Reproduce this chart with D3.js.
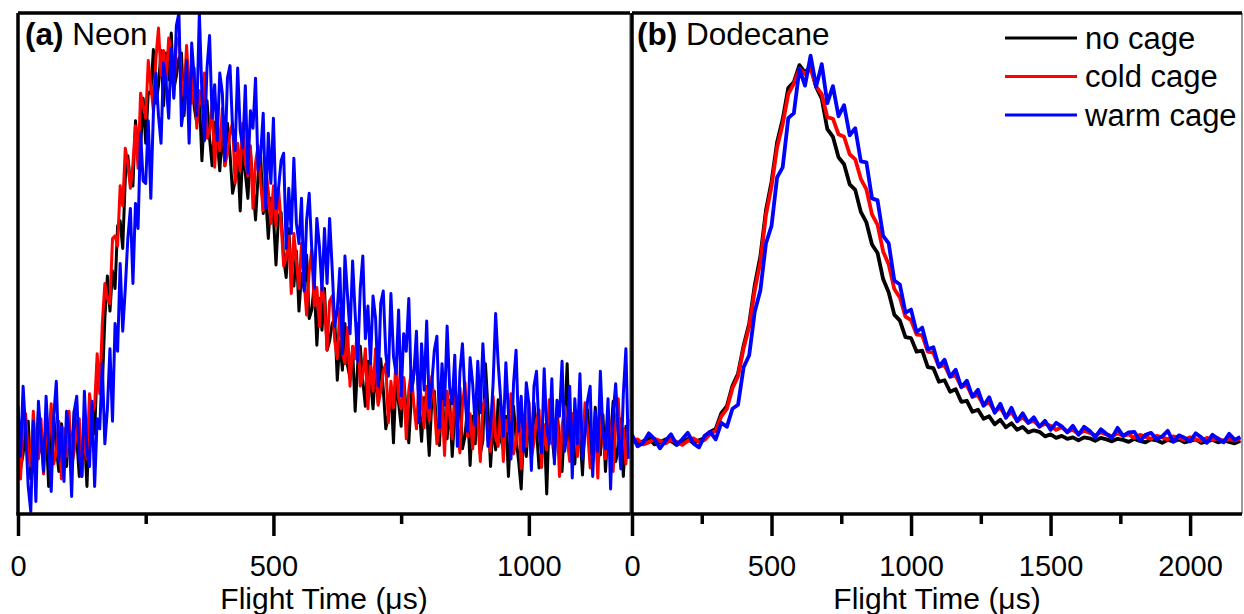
<!DOCTYPE html>
<html>
<head>
<meta charset="utf-8">
<script src="https://cdn.jsdelivr.net/npm/d3@7"></script>
<style>
  body { margin: 0; background: #fff; }
  svg { display: block; font-family: "Liberation Sans", Arial, sans-serif; }
</style>
</head>
<body>
<svg id="chart" width="1244" height="614"></svg>
<script>
// flight time sampling (us)
const NEON_STEP = 5;
const DODECANE_STEP = 20;

// signal (arb. units)
const neonNoCage = [
  20, 9, 12, 16.5, 18.5, 7, 15.5, 10.5, 20.5, 13,
  11, 17.5, 5.5, 15.5, 19.5, 13, 8.5, 18, 15, 9.5,
  18, 11.5, 20.5, 15, 7.5, 10.5, 16, 5.5, 20, 18,
  16, 30, 27.5, 25.5, 39, 47.5, 40.5, 48.5, 45, 57.5,
  58.5, 53, 67, 71.5, 66, 65.5, 78.5, 72.5, 73, 83,
  74, 84.2, 84, 92.7, 82, 85.5, 92.5, 81.5, 92, 86.7,
  96, 84.7, 87.5, 91, 92, 79.5, 87, 81, 90, 81.2,
  78, 83.5, 70.5, 79.5, 82.5, 75, 69.5, 78.2, 74.5, 68.5,
  76.5, 69.5, 78, 72, 64, 66.5, 71.5, 60.5, 73, 68,
  63, 72.5, 65.5, 58.7, 67.5, 71.5, 60, 63.2, 55, 63,
  59.5, 49.7, 59.5, 60.2, 51, 47.2, 57, 48, 45.5, 52.5,
  40.5, 48, 45, 51.7, 39, 40.7, 46, 33.7, 43, 36.7,
  45, 32.7, 34.5, 38, 39, 26.7, 34.5, 28.7, 38, 29.7,
  27, 33, 20.5, 30, 33.5, 26.5, 21.5, 30.5, 27, 21,
  29, 22.2, 31, 25, 17, 19.7, 25, 14.2, 27, 22.2,
  17.5, 27.2, 20.5, 14.2, 23.5, 28.2, 33, 21.7, 14.5, 23.2,
  20.5, 11.7, 22.5, 24.5, 16.5, 13.7, 24.5, 16.5, 15, 22.7,
  11.5, 20, 18, 25.2, 13, 15.5, 21.5, 9.7, 19.5, 14,
  23, 12, 14.7, 30, 21, 9.5, 18, 12.8, 22.8, 15,
  13, 19.5, 7.5, 17.5, 21.5, 15, 10.5, 5, 17, 11.5,
  19.7, 13.2, 22.2, 16.7, 9.2, 12.2, 17.7, 4, 20.2, 15.7,
  11, 21, 14.5, 8.5, 18, 30, 12.5, 17, 10, 19,
  16.3, 7.8, 18.8, 20.8, 12.8, 10.3, 21.3, 13.3, 11.8, 19.8,
  8.5, 17, 15, 22.5, 10.5, 13, 19, 7.5, 17.5, 12
];
const neonColdCage = [
  15.5, 7, 18, 20, 12, 9.5, 20.5, 12.5, 11, 19,
  8, 16.5, 14.5, 22, 10, 12.5, 18.5, 7, 17, 11.5,
  20.5, 9.5, 12.5, 17, 19, 7.5, 16, 11, 24, 20,
  21.5, 32, 24, 38, 46, 43, 42, 55, 55.5, 53.5,
  65.5, 61.5, 73, 70, 65, 70, 77.5, 69, 84, 81.5,
  79, 90.5, 85.5, 80.5, 91, 97, 87.5, 92.5, 86, 95,
  92.5, 83.5, 94, 95.2, 86.5, 83.2, 93.5, 84.5, 82, 89,
  77, 84.5, 81.5, 88, 75, 76.5, 81.5, 69.2, 78.5, 72.5,
  81, 69.5, 72, 76.2, 78, 66, 74, 68.5, 78, 70,
  67.5, 73.5, 61, 70.2, 73.5, 66, 60.5, 68.7, 64.5, 58,
  65.5, 57.5, 65, 58.2, 49.5, 51.2, 55.5, 44, 56, 50.5,
  45, 54, 46.5, 39.7, 48.5, 52.7, 41.5, 45.2, 37.5, 45.7,
  42.5, 32.7, 42.5, 43.5, 34.5, 31, 41, 32.2, 30, 37.2,
  25.5, 33.5, 31, 38, 25.5, 27.5, 33, 21, 30.5, 24.5,
  33, 21.7, 24.5, 28.5, 30, 18.2, 26.5, 21.2, 31, 23.2,
  21, 27.2, 15, 24.7, 28.5, 21.7, 17, 26.2, 23, 17.2,
  25.5, 18.7, 27.5, 21.7, 14, 17, 22.5, 11.7, 24.5, 19.7,
  15, 25, 18.5, 12.2, 21.5, 26.2, 15.5, 20, 13, 21.7,
  19, 10.5, 21.5, 23.2, 15, 12.5, 23.5, 15.2, 13.5, 21.5,
  10.5, 18.7, 16.5, 24, 12, 14.5, 20.5, 9, 19, 13.5,
  22.3, 11.3, 14.3, 18.8, 20.8, 9.3, 17.8, 12.8, 22.8, 15.3,
  13, 19.5, 7.5, 17.5, 21.5, 15, 10.5, 20, 17, 11.5,
  19.7, 13.2, 22.2, 16.7, 9.2, 12.2, 17.7, 7.2, 20.2, 15.7,
  11, 21, 14.5, 8.5, 18, 23, 12.5, 17, 10, 19
];
const neonWarmCage = [
  21.5, 11.5, 25.5, 16.5, 5.5, 0.5, 18.5, 2.5, 22.5, 15.5,
  8.5, 23.5, 13.5, 4.5, 19.5, 26.5, 10.5, 17.5, 6.5, 20.5,
  16.5, 3.5, 20.5, 23.5, 11.5, 7.5, 24.5, 12.5, 9.5, 22.5,
  5.5, 19, 17, 30, 14, 21, 33, 18.5, 38, 32.5,
  50, 36.5, 45, 55, 61, 46, 62, 57, 76, 66.5,
  66, 78.5, 63, 80, 88, 79.5, 74, 90, 86, 79,
  93, 83, 97.5, 100, 77.5, 81.5, 90.5, 74, 94, 87,
  79.5, 100, 84, 74.5, 89, 95.5, 79, 85.7, 74.5, 88,
  84, 70.5, 87, 89.5, 77, 72.5, 89, 76.5, 73, 85.5,
  68, 80.5, 77, 87, 68.5, 71.7, 80, 61, 76, 66,
  79, 61, 65, 70.5, 72, 53, 65, 56, 71, 58,
  54, 63, 44.5, 58.7, 64, 53, 45, 59, 53.5, 44.7,
  57, 46, 59, 49, 37.5, 40.7, 49, 32, 51.5, 43.7,
  36, 50.5, 40, 30.5, 45, 51.5, 35, 41.5, 30, 43.5,
  39, 25.5, 42, 44.5, 32, 27.5, 44, 31.5, 28, 40.7,
  23.5, 36, 32.5, 43, 24.5, 28, 36.5, 18.2, 34, 24.7,
  38.5, 21.2, 26, 32.7, 35.5, 17.2, 30, 21.7, 37.5, 25.2,
  22, 31.7, 13.5, 28.2, 34, 23.7, 16.5, 31.2, 26, 17.7,
  30.5, 20.2, 34, 24.7, 13.5, 17.2, 26, 40, 30, 22.7,
  15.5, 30.2, 20, 11, 26, 32.7, 16.5, 23.5, 12.5, 26.2,
  22, 8.7, 25.5, 28.5, 16.5, 12.2, 29, 17, 14, 27,
  10, 22.7, 19.5, 30.5, 12.5, 16.5, 25.5, 7.2, 23, 14,
  28, 11, 16, 22.7, 25.5, 7.5, 20.5, 12.5, 28.5, 16.2,
  13, 23, 5, 20, 26, 16, 9, 24, 33, 11
];

const dodecaneNoCage = [
  14.8, 14.1, 14.5, 15.2, 13.9, 14.3, 14.9, 14.6, 13.8, 14.4,
  15.0, 14.2, 14.7, 15.1, 16.4, 17.0, 20.1, 21.5, 25.6, 28.0,
  33.6, 38.0, 45.7, 51.4, 60.6, 66.3, 74.2, 78.8, 85.0, 86.2,
  89.6, 88.1, 89.4, 85.2, 82.9, 76.8, 75.3, 71.2, 69.8, 65.8,
  64.7, 60.3, 58.2, 53.8, 52.1, 46.9, 44.2, 39.8, 38.6, 35.3,
  35.1, 32.4, 32.6, 29.3, 29.1, 26.4, 26.7, 24.4, 24.9, 22.4,
  22.6, 20.4, 20.8, 19.0, 19.5, 17.9, 18.8, 17.3, 18.1, 16.8,
  17.4, 16.3, 16.7, 16.4, 15.5, 15.9, 15.2, 15.6, 15.0, 15.3,
  14.7, 15.3, 15.1, 14.6, 15.2, 14.9, 14.5, 15.0, 14.8, 14.4,
  15.0, 14.6, 14.3, 14.9, 14.7, 14.2, 14.8, 14.5, 14.9, 14.3,
  14.6, 14.9, 14.2, 14.5, 14.8, 14.3, 14.7, 14.4, 14.1, 14.6
];
const dodecaneColdCage = [
  14.5, 14.9, 13.9, 14.3, 15.0, 14.6, 14.1, 14.8, 14.4, 13.8,
  14.6, 15.1, 14.4, 14.8, 16.0, 16.6, 19.5, 21.0, 25.1, 27.5,
  33.1, 37.4, 44.7, 50.3, 59.7, 65.4, 73.2, 77.8, 83.8, 85.9,
  88.9, 87.8, 88.9, 85.3, 83.8, 79.2, 78.9, 75.8, 75.3, 71.8,
  70.8, 66.9, 64.8, 59.8, 57.7, 52.4, 49.8, 44.9, 43.2, 39.4,
  38.7, 35.8, 35.7, 32.4, 32.2, 29.4, 29.7, 27.4, 27.6, 25.4,
  25.7, 23.4, 23.7, 21.7, 22.3, 20.4, 21.2, 19.4, 20.3, 18.6,
  19.3, 18.2, 18.6, 17.5, 18.0, 17.6, 16.8, 17.3, 16.4, 16.8,
  16.0, 16.6, 16.2, 15.7, 16.3, 15.9, 15.5, 16.1, 15.6, 15.9,
  15.2, 15.8, 15.4, 15.0, 15.6, 15.3, 14.9, 15.5, 15.2, 14.8,
  15.3, 14.9, 14.6, 15.2, 14.8, 15.1, 14.5, 15.0, 14.7, 15.1
];
const dodecaneWarmCage = [
  15.8, 13.5, 14.2, 16.1, 15.0, 13.1, 14.6, 15.9, 13.8, 14.9,
  16.2, 14.1, 13.3, 15.6, 16.4, 14.9, 18.2, 17.4, 21.0, 21.8,
  29.3, 31.7, 40.4, 44.6, 54.0, 57.5, 67.2, 69.2, 79.0, 80.0,
  88.8, 85.5, 91.5, 85.3, 89.8, 82.0, 85.4, 79.4, 81.6, 75.6,
  77.0, 70.4, 70.2, 63.0, 62.6, 55.5, 54.0, 46.6, 45.8, 40.2,
  40.8, 36.3, 37.2, 32.9, 33.3, 29.4, 30.8, 27.4, 28.8, 25.3,
  26.6, 23.4, 24.8, 21.6, 23.3, 20.2, 22.0, 19.2, 21.2, 18.5,
  20.1, 18.2, 19.3, 17.4, 18.6, 16.8, 18.2, 17.5, 16.3, 17.6,
  15.8, 17.4, 16.6, 15.3, 16.9, 16.0, 15.2, 17.2, 15.6, 16.3,
  16.4, 14.6, 15.8, 16.2, 14.9, 15.5, 16.6, 14.4, 15.7, 15.2,
  14.5, 16.1, 15.3, 14.2, 15.8, 15.0, 14.3, 16.0, 14.8, 15.4
];

const seriesNames = ['no cage', 'cold cage', 'warm cage'];
const seriesColors = ['#000000', '#ff0000', '#0000ff'];

const neonMajorTicks = [0, 500, 1000];
const neonMinorTicks = [250, 750];
const dodecaneMajorTicks = [0, 500, 1000, 1500, 2000];
const dodecaneMinorTicks = [250, 750, 1250, 1750];

const X_TITLE = 'Flight Time (\u03bcs)';
const TOP = 13;
const BOTTOM = 514;

const svg = d3.select('#chart');

const yScale = d3.scaleLinear().domain([0, 100]).range([BOTTOM, TOP]);

const panels = [
  {
    id: 'neon', tag: '(a)', name: ' Neon', x0: 18, x1: 630, xMax: 1198, labelX: 25,
    step: NEON_STEP, lineWidth: 3, series: [neonNoCage, neonColdCage, neonWarmCage],
    major: neonMajorTicks, minor: neonMinorTicks
  },
  {
    id: 'dodecane', tag: '(b)', name: ' Dodecane', x0: 632, x1: 1242, xMax: 2186, labelX: 637,
    step: DODECANE_STEP, lineWidth: 3.8, series: [dodecaneNoCage, dodecaneColdCage, dodecaneWarmCage],
    major: dodecaneMajorTicks, minor: dodecaneMinorTicks
  }
];

panels.forEach(p => {
  const xScale = d3.scaleLinear().domain([0, p.xMax]).range([p.x0, p.x1]);

  svg.append('clipPath').attr('id', 'clip-' + p.id)
    .append('rect')
    .attr('x', p.x0).attr('y', TOP)
    .attr('width', p.x1 - p.x0).attr('height', BOTTOM - TOP);

  const plot = svg.append('g').attr('clip-path', 'url(#clip-' + p.id + ')');

  p.series.forEach((values, k) => {
    const line = d3.line()
      .x((d, i) => xScale(i * p.step))
      .y(d => yScale(d));
    plot.append('path')
      .datum(values)
      .attr('fill', 'none')
      .attr('stroke', seriesColors[k])
      .attr('stroke-width', p.lineWidth)
      .attr('stroke-linejoin', 'round')
      .attr('d', line);
  });

  // thin right edge, thick left/top/bottom
  svg.append('line')
    .attr('x1', p.x1).attr('x2', p.x1).attr('y1', TOP).attr('y2', BOTTOM)
    .attr('stroke', '#555').attr('stroke-width', 1.2);
  svg.append('line')
    .attr('x1', p.x0).attr('x2', p.x1).attr('y1', TOP).attr('y2', TOP)
    .attr('stroke', '#000').attr('stroke-width', 3.5);
  svg.append('line')
    .attr('x1', p.x0).attr('x2', p.x0).attr('y1', TOP).attr('y2', BOTTOM)
    .attr('stroke', '#000').attr('stroke-width', 3.5);

  const majorAxis = svg.append('g')
    .attr('transform', 'translate(0,' + BOTTOM + ')')
    .call(d3.axisBottom(xScale).tickValues(p.major).tickFormat(d3.format('d'))
      .tickSize(22).tickPadding(19).tickSizeOuter(0));
  const minorAxis = svg.append('g')
    .attr('transform', 'translate(0,' + BOTTOM + ')')
    .call(d3.axisBottom(xScale).tickValues(p.minor).tickSize(10).tickFormat('').tickSizeOuter(0));

  [majorAxis, minorAxis].forEach(ax => {
    ax.select('.domain').remove();
    ax.selectAll('.tick line').attr('stroke', '#000').attr('stroke-width', 3.5);
  });
  majorAxis.selectAll('.tick text')
    .attr('fill', '#000')
    .style('font-family', '"Liberation Sans", Arial, sans-serif')
    .style('font-size', '29px');

  svg.append('line')
    .attr('x1', p.x0 - 1.75).attr('x2', p.x1).attr('y1', BOTTOM).attr('y2', BOTTOM)
    .attr('stroke', '#000').attr('stroke-width', 3.5);

  svg.append('text')
    .attr('x', (p.x0 + p.x1) / 2).attr('y', 609)
    .attr('text-anchor', 'middle')
    .style('font-size', '30px')
    .text(X_TITLE);

  const title = svg.append('text')
    .attr('x', p.labelX).attr('y', 45)
    .style('font-size', '31.5px');
  title.append('tspan').attr('font-weight', 'bold').text(p.tag);
  title.append('tspan').text(p.name);
});

// legend in the dodecane panel
const legend = svg.append('g');
seriesNames.forEach((name, k) => {
  const yy = 38 + k * 38.5;
  legend.append('line')
    .attr('x1', 1005).attr('x2', 1077).attr('y1', yy).attr('y2', yy)
    .attr('stroke', seriesColors[k]).attr('stroke-width', 3);
  legend.append('text')
    .attr('x', 1085).attr('y', yy).attr('dy', '0.35em')
    .style('font-size', '31px')
    .text(name);
});
</script>
</body>
</html>
